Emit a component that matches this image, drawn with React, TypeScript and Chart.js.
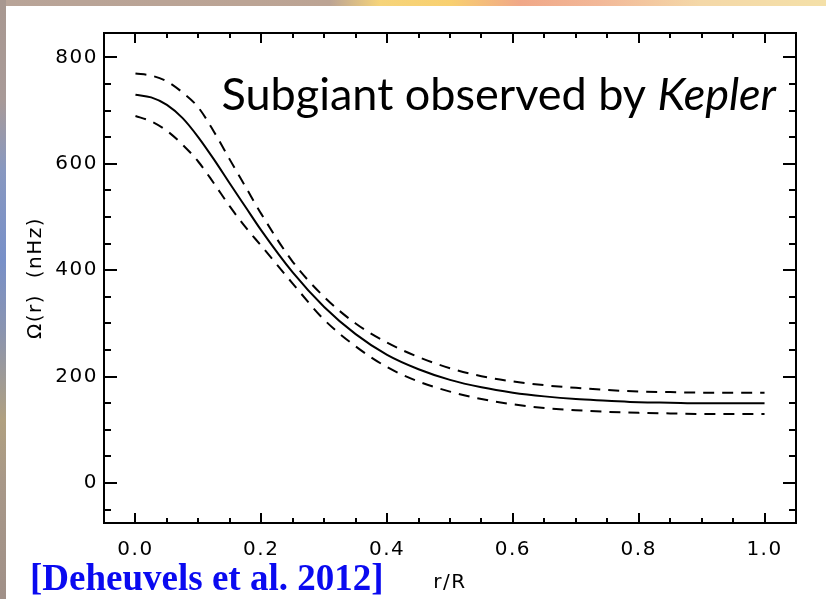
import React, { useEffect, useRef } from "react";
import { Chart, registerables } from "chart.js";

Chart.register(...registerables);

// Fractional radius r/R
const radius = [0, 0.025, 0.05, 0.075, 0.1, 0.125, 0.15, 0.175, 0.2, 0.25, 0.3, 0.35, 0.4, 0.45, 0.5, 0.55, 0.6, 0.65, 0.7, 0.75, 0.8, 0.85, 0.9, 0.95, 1.0];
// Rotation profile Ω(r) in nHz (best fit, upper and lower error envelopes)
const omegaBest = [730, 725, 711, 686, 650, 608, 563, 519, 475, 396, 331, 280, 241, 214, 194, 180, 170, 163, 158, 155, 152, 151, 150, 150, 150];
const omegaUpper = [770, 766, 755, 734, 706, 660, 608, 557, 506, 416, 350, 300, 264, 237, 216, 201, 191, 184, 179, 175, 172, 171, 170, 170, 170];
const omegaLower = [690, 680, 662, 636, 604, 563, 520, 481, 446, 375, 307, 257, 218, 191, 172, 158, 148, 141, 137, 134, 132, 131, 130, 130, 130];

// Axis ticks
const xTickValues = [0, 0.2, 0.4, 0.6, 0.8, 1.0];
const xMinorTickValues = [0.05, 0.1, 0.15, 0.25, 0.3, 0.35, 0.45, 0.5, 0.55, 0.65, 0.7, 0.75, 0.85, 0.9, 0.95];
const yTickValues = [0, 200, 400, 600, 800];
const yMinorTickValues = [-50, 50, 100, 150, 250, 300, 350, 450, 500, 550, 650, 700, 750];

const xTitle = "r/R";
const yTitle = "Ω(r)  (nHz)";
const annotationMain = "Subgiant observed by ";
const annotationItalic = "Kepler";
const citation = "[Deheuvels et al. 2012]";

const toPoints = (ys: number[]) => radius.map((r, i) => ({ x: r, y: ys[i] }));

const letterSpacingPlugin = {
  id: "letterSpacing",
  beforeDraw(chart: any) {
    (chart.ctx as any).letterSpacing = "1.5px";
  },
};

const framePlugin = {
  id: "frameTicks",
  afterDraw(chart: any) {
    const { ctx, chartArea, scales } = chart;
    const { left, right, top, bottom } = chartArea;
    const x = scales.x;
    const y = scales.y;
    ctx.save();
    (ctx as any).letterSpacing = "0px";
    ctx.strokeStyle = "#000";
    ctx.lineWidth = 2;
    ctx.beginPath();
    ctx.rect(left, top, right - left, bottom - top);
    const xTick = (v: number, len: number) => {
      const px = Math.round(x.getPixelForValue(v));
      ctx.moveTo(px, bottom);
      ctx.lineTo(px, bottom - len);
      ctx.moveTo(px, top);
      ctx.lineTo(px, top + len);
    };
    const yTick = (v: number, len: number) => {
      const py = Math.round(y.getPixelForValue(v));
      ctx.moveTo(left, py);
      ctx.lineTo(left + len, py);
      ctx.moveTo(right, py);
      ctx.lineTo(right - len, py);
    };
    xTickValues.forEach((v) => xTick(v, 10));
    xMinorTickValues.forEach((v) => xTick(v, 5));
    yTickValues.forEach((v) => yTick(v, 13));
    yMinorTickValues.forEach((v) => yTick(v, 7));
    ctx.stroke();

    // annotation text
    const size = 45;
    ctx.fillStyle = "#000";
    ctx.textBaseline = "alphabetic";
    ctx.textAlign = "left";
    ctx.font = `${size}px Lato, "Open Sans", sans-serif`;
    const w1 = ctx.measureText(annotationMain).width;
    ctx.font = `italic ${size}px Lato, "Open Sans", sans-serif`;
    const w2 = ctx.measureText(annotationItalic).width;
    const endX = 776;
    const startX = endX - w1 - w2;
    ctx.font = `${size}px Lato, "Open Sans", sans-serif`;
    ctx.fillText(annotationMain, startX, 110);
    ctx.font = `italic ${size}px Lato, "Open Sans", sans-serif`;
    ctx.fillText(annotationItalic, startX + w1, 110);

    // citation
    ctx.fillStyle = "#0a0af0";
    ctx.font = 'bold 37px "Liberation Serif", "Times New Roman", serif';
    ctx.fillText(citation, 30, 590);
    ctx.restore();
  },
};

export default function App() {
  const canvasRef = useRef<HTMLCanvasElement | null>(null);

  useEffect(() => {
    if (!canvasRef.current) return;
    const tickFont = { family: '"DejaVu Sans", sans-serif', size: 20 };
    const lineBase = {
      borderColor: "#000",
      borderWidth: 2,
      pointRadius: 0,
      cubicInterpolationMode: "monotone",
      fill: false,
    };
    const chart = new Chart(canvasRef.current, {
      type: "line",
      data: {
        datasets: [
          { ...lineBase, label: "best", data: toPoints(omegaBest) },
          { ...lineBase, label: "upper", data: toPoints(omegaUpper), borderDash: [11, 8] },
          { ...lineBase, label: "lower", data: toPoints(omegaLower), borderDash: [11, 8] },
        ],
      },
      options: {
        animation: false,
        responsive: false,
        devicePixelRatio: 1,
        layout: { padding: { top: 33, right: 30, left: 0, bottom: 0 } },
        plugins: {
          legend: { display: false },
          tooltip: { enabled: false },
        },
        scales: {
          x: {
            type: "linear",
            min: -0.05,
            max: 1.05,
            grid: { display: false, drawTicks: false },
            border: { display: false },
            afterBuildTicks: (scale: any) => {
              scale.ticks = xTickValues.map((v) => ({ value: v }));
            },
            afterFit: (scale: any) => {
              scale.height = 76;
            },
            ticks: {
              autoSkip: false,
              maxRotation: 0,
              padding: 15,
              color: "#000",
              font: tickFont,
              callback: (v: any) => Number(v).toFixed(1),
            },
            title: {
              display: true,
              text: xTitle,
              color: "#000",
              font: tickFont,
              padding: { top: 0, bottom: 4 },
            },
          },
          y: {
            type: "linear",
            min: -75,
            max: 846,
            grid: { display: false, drawTicks: false },
            border: { display: false },
            afterBuildTicks: (scale: any) => {
              scale.ticks = yTickValues.map((v) => ({ value: v }));
            },
            afterFit: (scale: any) => {
              scale.width = 104;
            },
            ticks: {
              autoSkip: false,
              padding: 6,
              color: "#000",
              font: tickFont,
              callback: (v: any) => String(v),
            },
            title: {
              display: true,
              text: yTitle,
              color: "#000",
              font: tickFont,
              padding: { top: 24, bottom: 0 },
            },
          },
        },
      },
      plugins: [letterSpacingPlugin, framePlugin],
    } as any);
    return () => chart.destroy();
  }, []);

  return (
    <div style={{ position: "fixed", left: 0, top: 0, width: 826, height: 599, overflow: "hidden" }}>
      <div
        style={{
          position: "absolute",
          left: 0,
          top: 0,
          width: 826,
          height: 6,
          background:
            "linear-gradient(to right, #b8a498 0px, #bca494 330px, #f6d47a 380px, #f8d070 450px, #f0a888 520px, #f2b898 600px, #f4d8a8 700px, #f4e0a8 826px)",
        }}
      />
      <div
        style={{
          position: "absolute",
          left: 0,
          top: 0,
          width: 6,
          height: 599,
          background:
            "linear-gradient(to bottom, #a89890 0px, #a89a98 100px, #8898c0 170px, #7890c8 260px, #8a94b0 330px, #b0a080 420px, #a89888 480px, #a09088 599px)",
        }}
      />
      <div style={{ position: "absolute", left: 6, top: 6, right: 0, bottom: 0, background: "#fff" }} />
      <canvas
        ref={canvasRef}
        width={826}
        height={599}
        style={{ position: "absolute", left: 0, top: 0, width: 826, height: 599 }}
      />
    </div>
  );
}
